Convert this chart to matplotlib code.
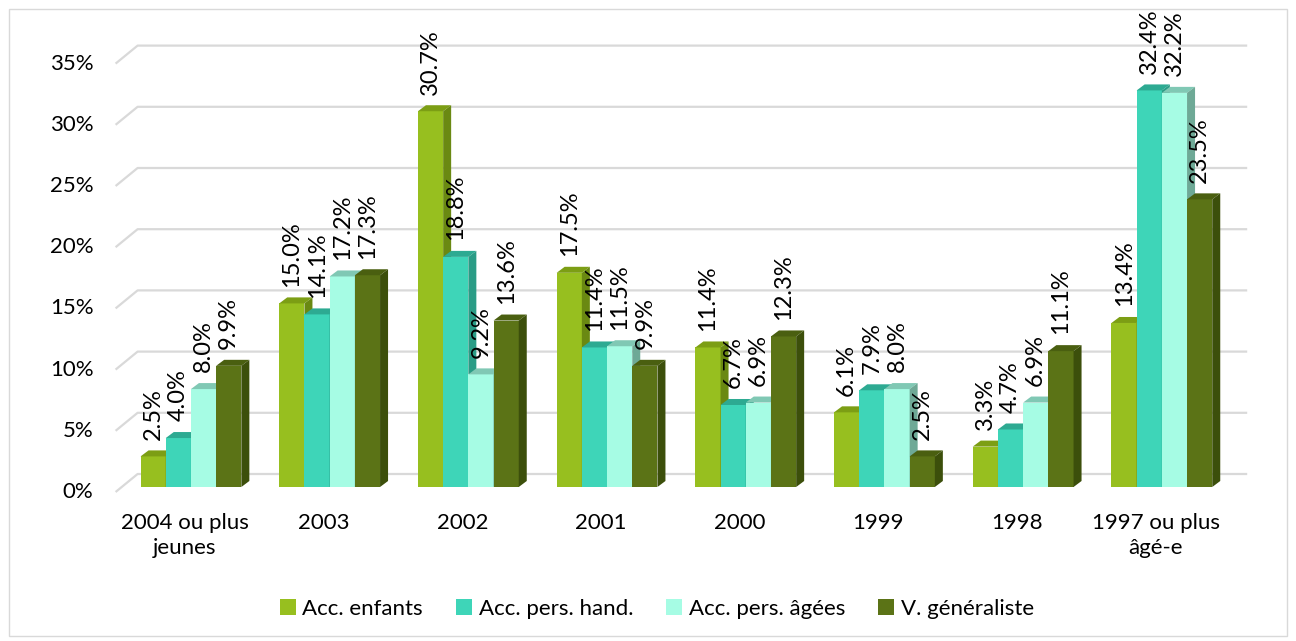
import matplotlib.pyplot as plt
from matplotlib.patches import Patch, Polygon, Rectangle

categories = ["2004 ou plus\njeunes", "2003", "2002", "2001", "2000", "1999", "1998",
              "1997 ou plus\nâgé-e"]
series_names = ["Acc. enfants", "Acc. pers. hand.", "Acc. pers. âgées", "V. généraliste"]
acc_enfants = [2.5, 15.0, 30.7, 17.5, 11.4, 6.1, 3.3, 13.4]
acc_pers_hand = [4.0, 14.1, 18.8, 11.4, 6.7, 7.9, 4.7, 32.4]
acc_pers_agees = [8.0, 17.2, 9.2, 11.5, 6.9, 8.0, 6.9, 32.2]
v_generaliste = [9.9, 17.3, 13.6, 9.9, 12.3, 2.5, 11.1, 23.5]
y_ticks = [0, 5, 10, 15, 20, 25, 30, 35]

series = [acc_enfants, acc_pers_hand, acc_pers_agees, v_generaliste]
front_colors = ["#97BF1F", "#3ED5B8", "#A6FCE4", "#5B7316"]
top_colors = ["#7C9E14", "#2DAA92", "#80C8B4", "#4A5F10"]
side_colors = ["#6A8912", "#2A9C86", "#6EA996", "#3C4F0B"]

W, H, DPI = 1296, 641, 100
PX_X = 138.7   # pixels per category
PX_Y = 12.24   # pixels per percent
FONT = ["Lato", "DejaVu Sans"]
FS = 16
FS_VAL = 17

plt.rcParams["font.family"] = FONT

fig = plt.figure(figsize=(W / DPI, H / DPI), dpi=DPI)
left_px, base_px = 121.6, 487
ax = fig.add_axes([left_px / W, (H - base_px) / H, 8 * PX_X / W, 35 * PX_Y / H])
ax.set_xlim(-0.5, 7.5)
ax.set_ylim(0, 35)
ax.axis("off")

# outer frame
fig.patches.append(Rectangle((9 / W, 5 / H), 1278 / W, 627 / H, transform=fig.transFigure,
                             fill=False, edgecolor="#D9D9D9", lw=1))

# depth offsets (in data units)
fx, fy = -6 / PX_X, -5 / PX_Y      # front floor edge
bx, by = 16 / PX_X, 13 / PX_Y      # back wall
dx, dy = 8 / PX_X, 6 / PX_Y        # bar depth

grid_color = "#D9D9D9"
for v in y_ticks:
    ax.plot([-0.5 + fx, -0.5 + bx, 7.5 + bx], [v + fy, v + by, v + by],
            color=grid_color, lw=1.6, clip_on=False, zorder=1, solid_capstyle="butt")
    ax.text(-0.5 + fx - 22 / PX_X, v + fy, f"{v}%", ha="right", va="center",
            fontsize=FS, color="#000000")

bw = 25.2 / PX_X
z = 2
for c in range(len(categories)):
    for i, vals in enumerate(series):
        h = vals[c]
        x = c - 2 * bw + i * bw
        ax.bar(x, h, width=bw, align="edge", color=front_colors[i], lw=0, zorder=z)
        ax.add_patch(Polygon([(x, h), (x + bw, h), (x + bw + dx, h + dy), (x + dx, h + dy)],
                             closed=True, color=top_colors[i], lw=0, zorder=z, clip_on=False))
        ax.add_patch(Polygon([(x + bw, 0), (x + bw + dx, dy), (x + bw + dx, h + dy), (x + bw, h)],
                             closed=True, color=side_colors[i], lw=0, zorder=z, clip_on=False))
        ax.annotate(f"{h:.1f}%", (x + bw / 2, h), xytext=(0, 12), textcoords="offset points",
                    rotation=90, ha="center", va="bottom", fontsize=FS_VAL, zorder=50,
                    annotation_clip=False)
        z += 1
    ax.text(c + fx, -26 / PX_Y, categories[c], ha="center", va="top", fontsize=FS,
            linespacing=1.3)

handles = [Patch(facecolor=col, edgecolor="none") for col in front_colors]
fig.legend(handles, series_names, loc="center", bbox_to_anchor=(657 / W, 1 - 609 / H),
           ncol=4, frameon=False, fontsize=FS, handlelength=0.7, handleheight=0.7,
           handletextpad=0.3, columnspacing=1.5)

fig.savefig("out.png", dpi=DPI)
